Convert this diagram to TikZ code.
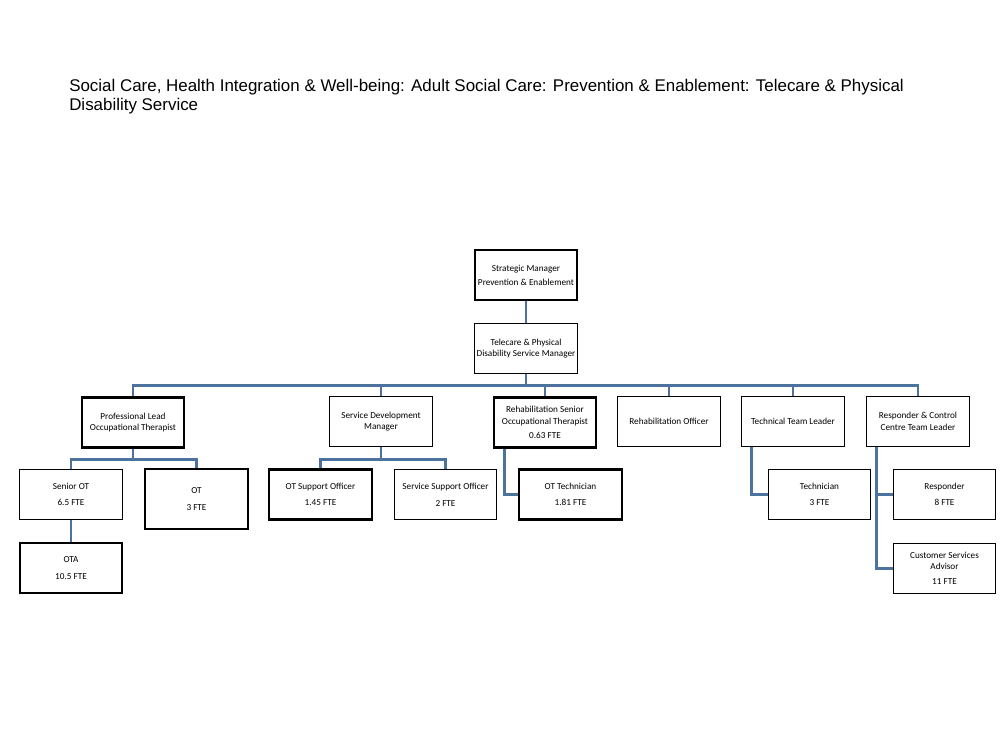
\documentclass[tikz,border=0pt]{standalone}
\usepackage{fontspec}
\setmainfont{Carlito}
\newfontfamily\titlefont{Liberation Sans}
\usepackage{xcolor}
\usepackage{tikz}
\definecolor{linkblue}{RGB}{76,114,158}

\begin{document}
\begin{tikzpicture}[x=0.75pt, y=-0.75pt,
    post/.style={draw=black, line width=0.8pt, minimum width=77pt, minimum height=37.5pt,
      align=center, inner sep=1pt, font=\fontsize{6.9}{8.5}\selectfont},
    keypost/.style={post, line width=1.7pt},
    link/.style={draw=linkblue, line width=2.2pt}]
    \useasboundingbox (0,0) rectangle (1008,756);

    \node[anchor=north west, inner sep=0, align=left, font=\titlefont\fontsize{12.7}{14.3}\selectfont] (title) at (69,79)
      {Social Care, Health Integration \& Well-being: Adult Social Care: Prevention \& Enablement: Telecare \& Physical\\Disability Service};

    \node[keypost] (sm) at (526, 275) {Strategic Manager\\[2pt]Prevention \& Enablement};
    \node[post] (tm) at (526, 348.5) {Telecare \& Physical\\Disability Service Manager};

    \node[keypost] (pl) at (133, 422.5) {Professional Lead\\Occupational Therapist};
    \node[post] (sd) at (381, 421.5) {Service Development\\Manager};
    \node[keypost] (rs) at (545, 422.5) {Rehabilitation Senior\\Occupational Therapist\\[2pt]0.63 FTE};
    \node[post] (ro) at (669, 421.5) {Rehabilitation Officer};
    \node[post] (tl) at (793, 421.5) {Technical Team Leader};
    \node[post] (rc) at (918, 421.5) {Responder \& Control\\Centre Team Leader};

    \node[post] (sot) at (71, 494.5) {Senior OT\\[4pt]6.5 FTE};
    \node[keypost, minimum height=45pt] (ot) at (196.5, 499) {OT\\[4pt]3 FTE};
    \node[keypost] (ota) at (71, 568) {OTA\\[4pt]10.5 FTE};
    \node[keypost] (sup) at (320.5, 494.5) {OT Support Officer\\[4pt]1.45 FTE};
    \node[post] (ssup) at (445.5, 494.5) {Service Support Officer\\[4pt]2 FTE};
    \node[keypost] (otec) at (570.5, 494.5) {OT Technician\\[4pt]1.81 FTE};
    \node[post] (tec) at (819.5, 494.5) {Technician\\[4pt]3 FTE};
    \node[post] (resp) at (944.5, 494.5) {Responder\\[4pt]8 FTE};
    \node[post] (csa) at (944.5, 568.5) {Customer Services\\Advisor\\[3pt]11 FTE};

    % manager chain
    \draw[link] (sm) -- (tm);
    \draw[link] (tm.south) -- ++(0,11) -| (pl.north);
    \draw[link] (tm.south) -- ++(0,11) -| (sd.north);
    \draw[link] (tm.south) -- ++(0,11) -| (rs.north);
    \draw[link] (tm.south) -- ++(0,11) -| (ro.north);
    \draw[link] (tm.south) -- ++(0,11) -| (tl.north);
    \draw[link] (tm.south) -- ++(0,11) -| (rc.north);

    % teams
    \draw[link] (pl.south) -- ++(0,11) -| (sot.north);
    \draw[link] (pl.south) -- ++(0,11) -| (ot.north);
    \draw[link] (sot) -- (ota);
    \draw[link] (sd.south) -- ++(0,12) -| (sup.north);
    \draw[link] (sd.south) -- ++(0,12) -| (ssup.north);
    \draw[link] (rs.south west) ++(12,0) |- (otec.west);
    \draw[link] (tl.south west) ++(10,0) |- (tec.west);
    \draw[link] (rc.south west) ++(10,0) |- (resp.west);
    \draw[link] (rc.south west) ++(10,0) |- (csa.west);
\end{tikzpicture}
\end{document}
